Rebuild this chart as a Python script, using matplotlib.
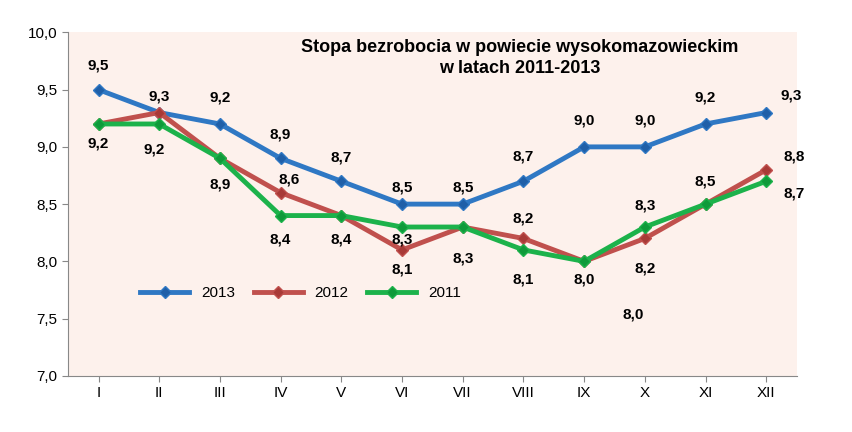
import matplotlib.pyplot as plt

months = ['I', 'II', 'III', 'IV', 'V', 'VI', 'VII', 'VIII', 'IX', 'X', 'XI', 'XII']
s2013 = [9.5, 9.3, 9.2, 8.9, 8.7, 8.5, 8.5, 8.7, 9.0, 9.0, 9.2, 9.3]
s2012 = [9.2, 9.3, 8.9, 8.6, 8.4, 8.1, 8.3, 8.2, 8.0, 8.2, 8.5, 8.8]
s2011 = [9.2, 9.2, 8.9, 8.4, 8.4, 8.3, 8.3, 8.1, 8.0, 8.3, 8.5, 8.7]

# label offsets in pixels (dx, dy), None = no label
off2013 = [(0, 24), (0, 16), (0, 26), (0, 24), (0, 24), (0, 17), (0, 17), (0, 25), (0, 26), (0, 26), (0, 26), (25, 17)]
off2012 = [(0, -20), None, (0, -26), (8, 13), None, (0, -20), None, (0, 20), None, (0, -30), None, (28, 13)]
off2011 = [None, (-5, -26), None, (0, -24), (0, -24), (0, -12), (0, -31), (0, -30), (0, -18), (0, 22), (0, 23), (28, -12)]

fig = plt.figure(figsize=(8.52, 4.32), dpi=100)
ax = fig.add_axes([0.08, 0.13, 0.855, 0.795])
ax.set_facecolor('#fdf1ec')
x = range(len(months))
kw = dict(marker='D', markersize=6, linewidth=3.5)
ax.plot(x, s2013, color='#2f78c4', label='2013', markerfacecolor='#1f5fa8', **kw)
ax.plot(x, s2012, color='#c0504d', label='2012', markerfacecolor='#a83a37', **kw)
ax.plot(x, s2011, color='#1cb24b', label='2011', markerfacecolor='#0f9a3a', **kw)

for vals, offs in ((s2013, off2013), (s2012, off2012), (s2011, off2011)):
    for i, (v, o) in enumerate(zip(vals, offs)):
        if o is None:
            continue
        ax.annotate(f'{v:.1f}'.replace('.', ','), (i, v), xytext=o, textcoords='offset pixels',
                    ha='center', va='center', fontsize=11, fontweight='bold', family='Liberation Sans')
ax.text(8.8, 7.54, '8,0', ha='center', va='center', fontsize=11, fontweight='bold', family='Liberation Sans')

ax.set_xlim(-0.5, 11.5)
ax.set_ylim(7.0, 10.0)
ax.set_yticks([7.0, 7.5, 8.0, 8.5, 9.0, 9.5, 10.0])
ax.set_yticklabels([f'{v:.1f}'.replace('.', ',') for v in ax.get_yticks()], fontsize=11, family='Liberation Sans')
ax.set_xticks(list(x))
ax.set_xticklabels(months, fontsize=11, family='Liberation Sans')
ax.tick_params(length=4, color='#888888')
for side in ('top', 'right'):
    ax.spines[side].set_visible(False)
for side in ('left', 'bottom'):
    ax.spines[side].set_color('#888888')

ax.text(0.62, 0.98, 'Stopa bezrobocia w powiecie wysokomazowieckim\nw latach 2011-2013', transform=ax.transAxes,
        ha='center', va='top', fontsize=13, fontweight='bold', family='Liberation Sans', linespacing=1.25)
ax.legend(loc='center left', bbox_to_anchor=(0.08, 0.24), ncol=3, frameon=False, fontsize=11,
          handlelength=3.2, columnspacing=1.2, prop={'family': 'Liberation Sans', 'size': 11})

fig.savefig('out.png', dpi=100)
